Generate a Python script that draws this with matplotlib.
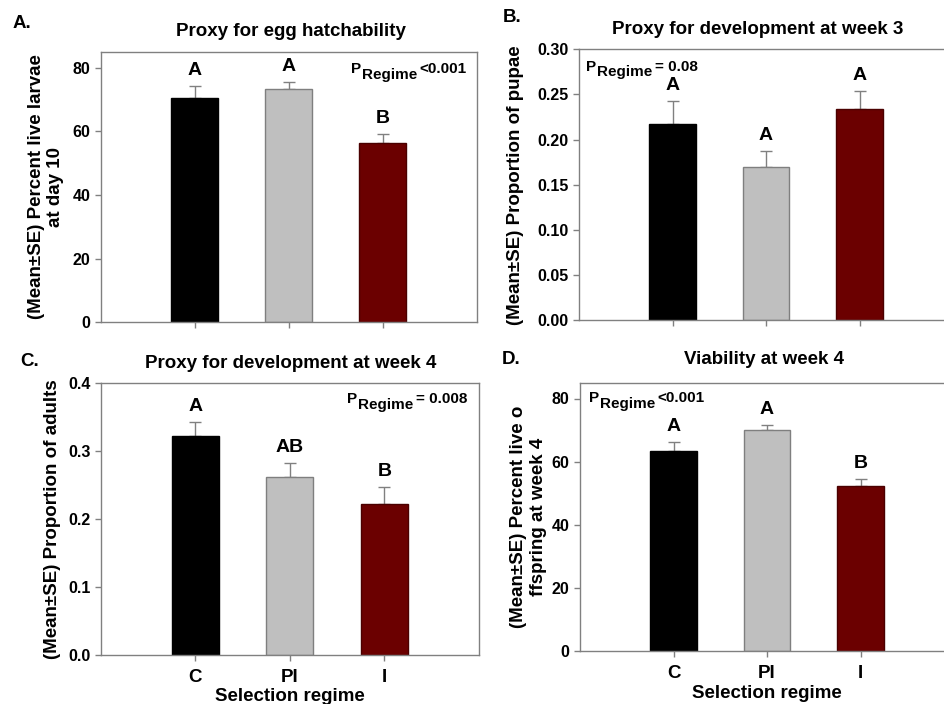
import matplotlib
matplotlib.use("Agg")
import matplotlib.pyplot as plt

plt.rcParams['font.family'] = ['Liberation Sans', 'DejaVu Sans']
plt.rcParams['font.weight'] = 'bold'

regimes = ["C", "PI", "I"]
bar_colors = ["#000000", "#BFBFBF", "#6B0000"]
edge_colors = ["#000000", "#7F7F7F", "#4A0000"]

# Panel A: percent live larvae at day 10
hatch_mean = [70.4, 73.4, 56.2]
hatch_se = [3.7, 2.0, 3.0]
hatch_letters = ["A", "A", "B"]

# Panel B: proportion of pupae at week 3
pupae_mean = [0.217, 0.170, 0.234]
pupae_se = [0.026, 0.017, 0.020]
pupae_letters = ["A", "A", "A"]

# Panel C: proportion of adults at week 4
adult_mean = [0.321, 0.261, 0.221]
adult_se = [0.021, 0.021, 0.026]
adult_letters = ["A", "AB", "B"]

# Panel D: percent live offspring at week 4
viab_mean = [63.3, 69.9, 52.2]
viab_se = [3.0, 1.8, 2.2]
viab_letters = ["A", "A", "B"]

spine_col = "#808080"

fig = plt.figure(figsize=(9.44, 7.04), dpi=100)
W, H = 944.0, 704.0


def make_axes(left, top, right, bottom):
    return fig.add_axes([left / W, 1 - bottom / H, (right - left) / W, (bottom - top) / H])


def draw_panel(ax, means, ses, letters, ylim, yticks, yfmt, show_xlabels):
    x = list(range(len(regimes)))
    ax.bar(x, means, width=0.5, color=bar_colors, edgecolor=edge_colors,
           linewidth=1.0, zorder=2)
    ax.errorbar(x, means, yerr=[[0] * len(ses), ses], fmt="none",
                ecolor=spine_col, elinewidth=1.0, capsize=4, capthick=1.0, zorder=1)
    for xi, m, s, lab in zip(x, means, ses, letters):
        ax.annotate(lab, xy=(xi, m + s), xytext=(0, 5), textcoords="offset points",
                    ha="center", va="bottom", fontsize=14, fontweight="bold")
    ax.set_xlim(-1, 3)
    ax.set_ylim(*ylim)
    for sp in ax.spines.values():
        sp.set_color(spine_col)
        sp.set_linewidth(1.0)
    ax.tick_params(axis="both", direction="out", length=4, width=1.0, color=spine_col,
                   labelsize=11.5)
    ax.tick_params(axis="x", pad=6)
    ax.set_yticks(yticks)
    ax.set_yticklabels([yfmt.format(v) for v in yticks], fontsize=11.5, fontweight="bold")
    ax.set_xticks(x)
    if show_xlabels:
        ax.set_xticklabels(regimes, fontsize=13.5, fontweight="bold")
        ax.set_xlabel("Selection regime", fontsize=13.5, fontweight="bold", labelpad=2)
    else:
        ax.set_xticklabels([])


def p_label(ax, x, y, value):
    t1 = ax.text(x, y, "P", transform=ax.transAxes, ha="left", va="top",
                 fontsize=11, fontweight="bold")
    t2 = ax.annotate("Regime", xy=(1, 0), xycoords=t1, xytext=(0.5, -4),
                     textcoords="offset points", ha="left", va="bottom",
                     fontsize=11, fontweight="bold")
    ax.annotate(value, xy=(1, 1), xycoords=t2, xytext=(2, 4),
                textcoords="offset points", ha="left", va="top",
                fontsize=11, fontweight="bold")


axA = make_axes(100.7, 51.7, 477, 322.3)
axB = make_axes(579, 49.3, 953, 320.3)
axC = make_axes(100.7, 382.7, 479, 654.7)
axD = make_axes(580, 382.7, 954, 651.3)

draw_panel(axA, hatch_mean, hatch_se, hatch_letters, (0, 85), [0, 20, 40, 60, 80], "{:.0f}", False)
draw_panel(axB, pupae_mean, pupae_se, pupae_letters, (0, 0.30),
           [0, 0.05, 0.10, 0.15, 0.20, 0.25, 0.30], "{:.2f}", False)
draw_panel(axC, adult_mean, adult_se, adult_letters, (0, 0.4), [0, 0.1, 0.2, 0.3, 0.4], "{:.1f}", True)
draw_panel(axD, viab_mean, viab_se, viab_letters, (0, 85), [0, 20, 40, 60, 80], "{:.0f}", True)

p_label(axA, 0.665, 0.962, "<0.001")
p_label(axB, 0.020, 0.962, "= 0.08")
p_label(axC, 0.652, 0.965, "= 0.008")
p_label(axD, 0.024, 0.968, "<0.001")

ylabels = [
    (axA, "(Mean\u00b1SE) Percent live larvae\nat day 10", -0.145),
    (axB, "(Mean\u00b1SE) Proportion of pupae", -0.169),
    (axC, "(Mean\u00b1SE) Proportion of adults", -0.128),
    (axD, "(Mean\u00b1SE) Percent live o\nffspring at week 4", -0.138),
]
for ax, txt, xpos in ylabels:
    ax.text(xpos, 0.5, txt, transform=ax.transAxes, rotation=90, ha="center",
            va="center", fontsize=13.5, fontweight="bold", linespacing=1.2)

titles = [
    (290.8, 31.7, "Proxy for egg hatchability"),
    (758, 30, "Proxy for development at week 3"),
    (290.8, 363, "Proxy for development at week 4"),
    (764, 360, "Viability at week 4"),
]
for x, y, txt in titles:
    fig.text(x / W, 1 - y / H, txt, ha="center", va="center", fontsize=13.5, fontweight="bold")

letters = [(13, 23, "A."), (503, 18, "B."), (20, 362, "C."), (502, 360, "D.")]
for x, y, txt in letters:
    fig.text(x / W, 1 - y / H, txt, ha="left", va="center", fontsize=13.5, fontweight="bold")

fig.savefig("out.png", dpi=100)
